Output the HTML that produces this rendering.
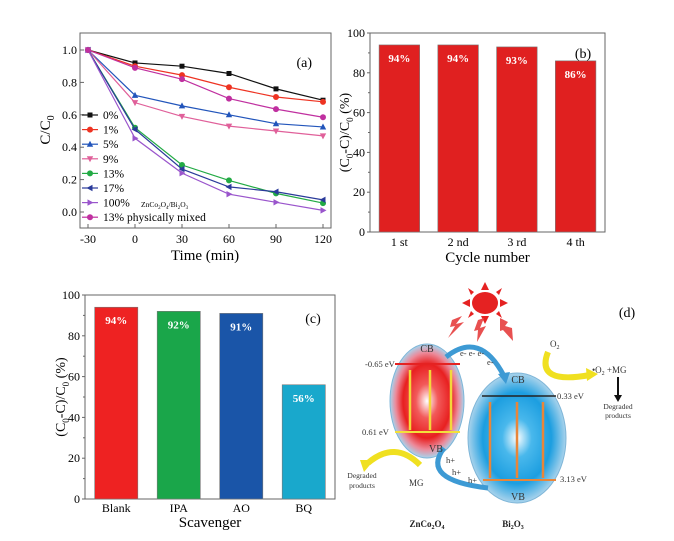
<!DOCTYPE html>
<html><head><meta charset="utf-8"><style>
body{margin:0;background:#fff;width:674px;height:541px;overflow:hidden}
svg{display:block;font-family:"Liberation Serif",serif}
</style></head><body>
<svg id="fig" width="674" height="541" viewBox="0 0 674 541">
<defs>
<radialGradient id="gRed" cx="50%" cy="50%" r="50%"><stop offset="0" stop-color="#fff"/><stop offset="0.3" stop-color="#f25a5a"/><stop offset="0.65" stop-color="#e82020"/><stop offset="0.85" stop-color="#ec8a9a"/><stop offset="1" stop-color="#a9d3ec"/></radialGradient>
<radialGradient id="gBlue" cx="50%" cy="50%" r="50%"><stop offset="0" stop-color="#fff"/><stop offset="0.3" stop-color="#49b8ec"/><stop offset="0.7" stop-color="#1c9ee0"/><stop offset="1" stop-color="#a9d3ec"/></radialGradient>
</defs>
<g id="pa"></g>
<g id="pb"></g>
<g id="pc"></g>
<g id="pd">
  <g fill="#e52222">
    <ellipse cx="485" cy="303" rx="13" ry="11"/>
    <polygon points="485,282 481,290 489,290"/><polygon points="485,324 481,316 489,316"/>
    <polygon points="462,303 470,299 470,307"/><polygon points="508,303 500,299 500,307"/>
    <polygon points="468,288 474,292 471,295"/><polygon points="502,288 496,292 499,295"/>
    <polygon points="468,318 474,314 471,311"/><polygon points="502,318 496,314 499,311"/>
    <polygon points="452,320 462,316 456,324 464,322 448,338 455,326 450,327" fill="#e85050"/>
    <polygon points="478,320 484,318 480,328 486,326 477,342 478,330 474,331" fill="#e85050"/>
    <polygon points="500,318 508,322 505,326 512,328 513,341 503,330 500,331" fill="#e85050"/>
  </g>
  <ellipse cx="427" cy="401" rx="37" ry="57" fill="url(#gRed)" stroke="#7fb6d8"/>
  <ellipse cx="517" cy="438" rx="49" ry="65" fill="url(#gBlue)" stroke="#7fb6d8"/>
  <line x1="395" y1="364" x2="460" y2="364" stroke="#e52222" stroke-width="2"/>
  <line x1="395" y1="432" x2="460" y2="432" stroke="#f3e03a" stroke-width="2"/>
  <line x1="482" y1="396" x2="556" y2="396" stroke="#222" stroke-width="1.5"/>
  <line x1="483" y1="480" x2="556" y2="480" stroke="#e8863a" stroke-width="2"/>
  <g stroke="#f3d83a" stroke-width="2.5"><line x1="410" y1="430" x2="410" y2="370"/><line x1="430" y1="430" x2="430" y2="370"/><line x1="451" y1="430" x2="451" y2="370"/></g>
  <g stroke="#e8863a" stroke-width="2.5"><line x1="490" y1="478" x2="490" y2="402"/><line x1="517" y1="478" x2="517" y2="402"/><line x1="543" y1="478" x2="543" y2="402"/></g>
  <path d="M446 357 Q480 330 504 376" fill="none" stroke="#3d9ad4" stroke-width="5"/>
  <polygon points="498,374 510,372 506,384" fill="#3d9ad4"/>
  <path d="M444 448 Q420 480 488 488" fill="none" stroke="#3d9ad4" stroke-width="5"/>
  <path d="M548 352 Q535 385 590 375" fill="none" stroke="#f0e020" stroke-width="6"/>
  <polygon points="586,368 598,374 587,381" fill="#f0e020"/>
  <path d="M420 465 Q395 440 368 463" fill="none" stroke="#f0e020" stroke-width="6"/>
  <polygon points="360,460 374,460 364,472" fill="#f0e020"/>
  <line x1="618" y1="377" x2="618" y2="397" stroke="#111" stroke-width="2"/><polygon points="614,395 622,395 618,402" fill="#111"/>
  <g font-size="8.5" fill="#333">
    <text x="427" y="352" text-anchor="middle" font-size="10">CB</text>
    <text x="518" y="383" text-anchor="middle" font-size="10">CB</text>
    <text x="436" y="452" text-anchor="middle" font-size="10">VB</text>
    <text x="518" y="500" text-anchor="middle" font-size="10">VB</text>
    <text x="365" y="367">-0.65 eV</text>
    <text x="362" y="435">0.61 eV</text>
    <text x="557" y="399">0.33 eV</text>
    <text x="560" y="482">3.13 eV</text>
    <text x="460" y="356">e-  e-  e-</text><text x="487" y="365">e-</text>
    <text x="446" y="463">h+</text><text x="452" y="475">h+</text><text x="468" y="483">h+</text>
    <text x="550" y="347" font-size="9">O<tspan font-size="6" dy="2">2</tspan></text>
    <text x="592" y="373" font-size="9">•O<tspan font-size="6" dy="2">2</tspan><tspan dy="-2"> +MG</tspan></text>
    <text x="618" y="409" text-anchor="middle" font-size="7.5">Degraded</text><text x="618" y="418" text-anchor="middle" font-size="7.5">products</text>
    <text x="362" y="478" text-anchor="middle" font-size="7.5">Degraded</text><text x="362" y="488" text-anchor="middle" font-size="7.5">products</text>
    <text x="409" y="486" font-size="9">MG</text>
    <text x="427" y="527" text-anchor="middle" font-weight="bold" font-size="9" fill="#222">ZnCo<tspan font-size="6" dy="2">2</tspan><tspan dy="-2">O</tspan><tspan font-size="6" dy="2">4</tspan></text>
    <text x="513" y="527" text-anchor="middle" font-weight="bold" font-size="9" fill="#222">Bi<tspan font-size="6" dy="2">2</tspan><tspan dy="-2">O</tspan><tspan font-size="6" dy="2">3</tspan></text>
  </g>
  <text x="627" y="317" text-anchor="middle" font-size="14">(d)</text>
</g>
</svg>
<script>
const NS="http://www.w3.org/2000/svg";
function mk(p,t,a,txt){const e=document.createElementNS(NS,t);for(const k in a)e.setAttribute(k,a[k]);if(txt!=null)e.textContent=txt;p.appendChild(e);return e;}

const timeLabels=[-30,0,30,60,90,120];
const seriesNames=["0%","1%","5%","9%","13%","17%","100%","13% physically mixed"];
const s0=[1,0.92,0.90,0.855,0.76,0.69];
const s1=[1,0.90,0.845,0.77,0.71,0.68];
const s5=[1,0.72,0.655,0.60,0.545,0.525];
const s9=[1,0.675,0.59,0.53,0.50,0.47];
const s13=[1,0.52,0.29,0.195,0.115,0.055];
const s17=[1,0.51,0.265,0.155,0.125,0.075];
const s100=[1,0.455,0.24,0.11,0.06,0.01];
const s13pm=[1,0.89,0.82,0.70,0.635,0.585];
const yTicksA=[0,0.2,0.4,0.6,0.8,1.0];
const cycles=["1 st","2 nd","3 rd","4 th"];
const cycleVals=[94,94,93,86];
const scavengers=["Blank","IPA","AO","BQ"];
const scavVals=[94,92,91,56];
const barTicks=[0,20,40,60,80,100];

(function(){
 const g=document.getElementById('pa');
 const x=v=>88+(v+30)/150*235, y=v=>212-v*162;
 const fr=mk(g,'rect',{x:80,y:33,width:251,height:195,fill:'none',stroke:'#666','stroke-width':1});
 
 
 timeLabels.forEach(t=>{mk(g,'line',{x1:x(t),x2:x(t),y1:228,y2:224,stroke:'#666'});
  const l=mk(g,'text',{x:x(t),y:243,'text-anchor':'middle','font-size':12},t);
  
  });
 yTicksA.forEach(t=>{mk(g,'line',{x1:80,x2:84,y1:y(t),y2:y(t),stroke:'#666'});
  const l=mk(g,'text',{x:77,y:y(t)+4,'text-anchor':'end','font-size':12},t.toFixed(1));
  
  });
 const xt=mk(g,'text',{x:205,y:260,'text-anchor':'middle','font-size':15},'Time (min)');
 
 
 const yt=mk(g,'text',{transform:'translate(50,130) rotate(-90)','text-anchor':'middle','font-size':15},'C/C');
 mk(yt,'tspan',{'font-size':10,dy:4},'0');
 
 
 const pl=mk(g,'text',{x:312,y:67,'text-anchor':'end','font-size':14},'(a)');
 
 
 const all=[s0,s1,s5,s9,s13,s17,s100,s13pm];
 const cols=['#111','#ee3322','#2255bb','#e0609a','#22aa44','#2a3a9a','#9a55cc','#c030a0'];
 const shp=['sq','ci','tu','td','ci','tl','tr','ci'];
 function marker(p,cx,cy,s,c){let m;
  if(s==='sq')m=mk(p,'rect',{x:cx-2.5,y:cy-2.5,width:5,height:5,fill:c});
  else if(s==='ci')m=mk(p,'circle',{cx,cy,r:3,fill:c});
  else{const pts={tu:[[0,-3.5],[-3.2,2.5],[3.2,2.5]],td:[[0,3.5],[-3.2,-2.5],[3.2,-2.5]],tl:[[-3.5,0],[2.5,-3.2],[2.5,3.2]],tr:[[3.5,0],[-2.5,-3.2],[-2.5,3.2]]}[s];
   m=mk(p,'polygon',{points:pts.map(q=>(cx+q[0])+','+(cy+q[1])).join(' '),fill:c});}
  return m;}
 all.forEach((d,i)=>{const sg=mk(g,'g',{});
  
  
  mk(sg,'polyline',{points:d.map((v,j)=>x(timeLabels[j])+','+y(v)).join(' '),fill:'none',stroke:cols[i],'stroke-width':1.2});
  d.forEach((v,j)=>{const m=marker(sg,x(timeLabels[j]),y(v),shp[i],cols[i]);
   
   });
  const ly=115+i*14.6;
  const le=mk(g,'g',{});
  
  
  mk(le,'line',{x1:82,x2:98,y1:ly,y2:ly,stroke:cols[i],'stroke-width':1.2});
  marker(le,90,ly,shp[i],cols[i]);
  mk(le,'text',{x:103,y:ly+4,'font-size':11.5},seriesNames[i]);
 });
 const zn=mk(g,'text',{x:141,y:207,'font-size':7.5},'ZnCo');
 mk(zn,'tspan',{'font-size':5,dy:2},'2');mk(zn,'tspan',{dy:-2},'O');mk(zn,'tspan',{'font-size':5,dy:2},'4');
 mk(zn,'tspan',{dy:-2},'/Bi');mk(zn,'tspan',{'font-size':5,dy:2},'2');mk(zn,'tspan',{dy:-2},'O');mk(zn,'tspan',{'font-size':5,dy:2},'3');
})();

function barPanel(g,X0,X1,Y0,Y1,cats,vals,colors,labelY,title,titleY,ylabX,plabel,plx,ply,prefix){
 const n=cats.length,bw=(X1-X0)/n;
 const y=v=>Y1-(v/100)*(Y1-Y0);
 const fr=mk(g,'rect',{x:X0,y:Y0,width:X1-X0,height:Y1-Y0,fill:'none',stroke:'#666'});
 
 
 barTicks.forEach(t=>{mk(g,'line',{x1:X0-3,x2:X0,y1:y(t),y2:y(t),stroke:'#666'});
  if(t<100)mk(g,'line',{x1:X0-2,x2:X0,y1:y(t+10),y2:y(t+10),stroke:'#666'});
  const l=mk(g,'text',{x:X0-5,y:y(t)+4,'text-anchor':'end','font-size':12},t);
  
  });
 cats.forEach((c,i)=>{const cx=X0+bw*(i+0.5),w=bw*0.69;
  const b=mk(g,'rect',{x:cx-w/2,y:y(vals[i]),width:w,height:y(0)-y(vals[i]),fill:colors[i],stroke:'#777','stroke-width':0.6});
  
  
  const v=mk(g,'text',{x:cx,y:y(vals[i])+17,'text-anchor':'middle','font-size':11,'font-weight':'bold',fill:'#fff'},vals[i]+'%');
  
  
  const l=mk(g,'text',{x:cx,y:labelY,'text-anchor':'middle','font-size':12},c);
  
  });
 const xt=mk(g,'text',{x:(X0+X1)/2,y:titleY,'text-anchor':'middle','font-size':15},title);
 
 
 const yt=mk(g,'text',{transform:`translate(${ylabX},${(Y0+Y1)/2}) rotate(-90)`,'text-anchor':'middle','font-size':14},'(C');
 mk(yt,'tspan',{'font-size':9,dy:4},'0');mk(yt,'tspan',{dy:-4},'-C)/C');mk(yt,'tspan',{'font-size':9,dy:4},'0');mk(yt,'tspan',{dy:-4},' (%)');
 
 
 const pl=mk(g,'text',{x:plx,y:ply,'text-anchor':'middle','font-size':14},plabel);
 
 
}
barPanel(document.getElementById('pb'),370,605,33,232,cycles,cycleVals,['#e02020','#e02020','#e02020','#e02020'],246,'Cycle number',262,349,'(b)',583,58,'panel-b');
barPanel(document.getElementById('pc'),85,335,295,499,scavengers,scavVals,['#ee2222','#1aa64a','#1a55a8','#19a8cc'],512,'Scavenger',527,65,'(c)',313,323,'panel-c');
</script>
</body></html>
